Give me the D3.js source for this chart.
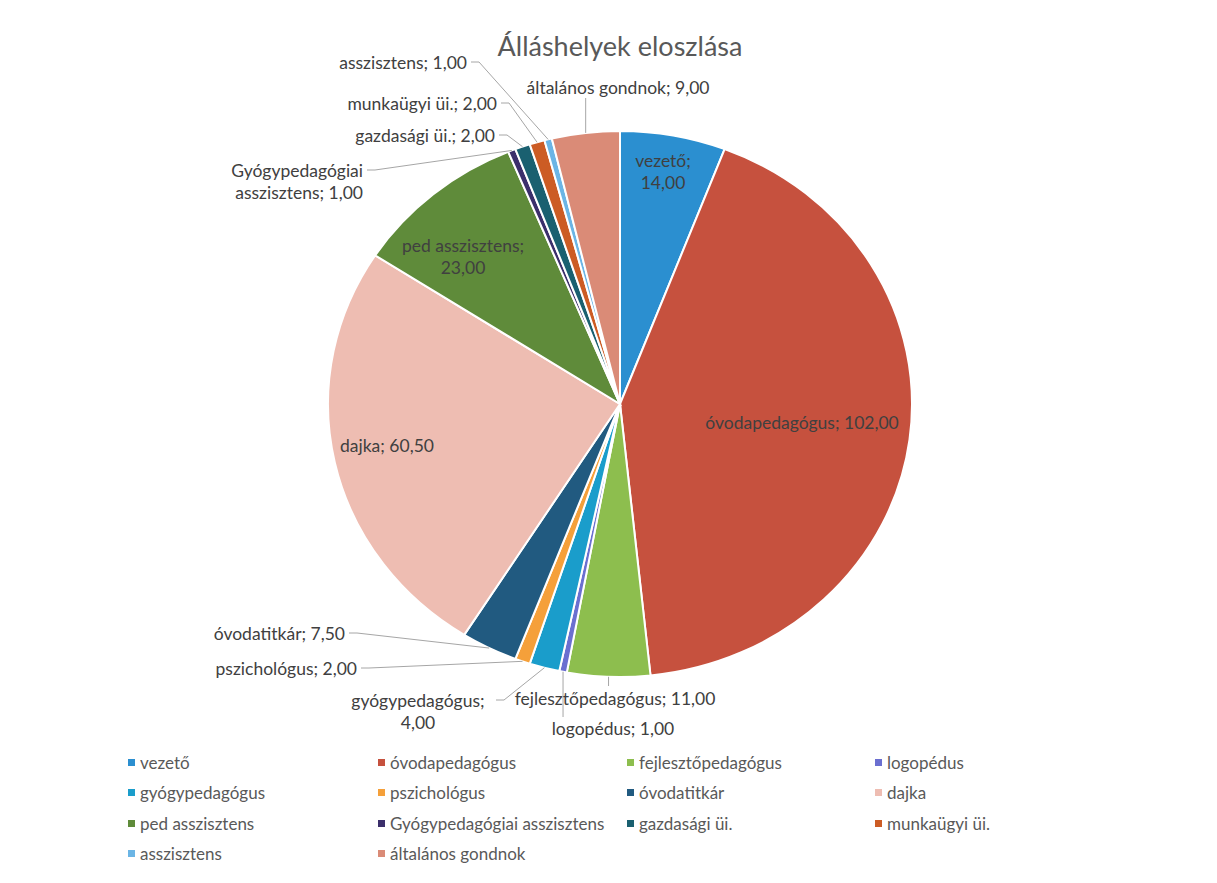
<!DOCTYPE html>
<html>
<head>
<meta charset="utf-8">
<script src="https://cdn.jsdelivr.net/npm/d3@7"></script>
<style>
  body { margin: 0; background: #fff; }
  text { font-family: Lato, "Open Sans", sans-serif; }
</style>
</head>
<body>
<div id="chart"></div>
<script>
// data
var categories = ["vezető", "óvodapedagógus", "fejlesztőpedagógus", "logopédus",
  "gyógypedagógus", "pszichológus", "óvodatitkár", "dajka", "ped asszisztens",
  "Gyógypedagógiai asszisztens", "gazdasági üi.", "munkaügyi üi.", "asszisztens",
  "általános gondnok"];
var values = [14, 102, 11, 1, 4, 2, 7.5, 60.5, 23, 1, 2, 2, 1, 9];
var colors = ["#2b8fd0", "#c6513e", "#8dbe4e", "#6b6fd0", "#1a9dcb", "#f5a03a",
  "#215a80", "#eebdb2", "#5f8b3a", "#3b2f6b", "#1a6070", "#cc5c24", "#6bb5e5", "#da8b77"];

// Excel style number: 14,00
var fmt = function(v) { return v.toFixed(2).replace(".", ","); };

var svg = d3.select("#chart").append("svg")
  .attr("width", 1217)
  .attr("height", 883);

var cx = 620, cy = 404, rx = 292, ry = 273;

// title
svg.append("text")
  .attr("x", 620).attr("y", 45)
  .attr("text-anchor", "middle")
  .attr("dominant-baseline", "central")
  .style("font-size", "27px")
  .style("fill", "#595959")
  .text("Álláshelyek eloszlása");

var pie = d3.pie().sort(null).value(function(d) { return d; });
var arcs = pie(values);
var arc = d3.arc().innerRadius(0).outerRadius(ry);

// pie is a bit wider than tall in the picture
var pieG = svg.append("g")
  .attr("transform", "translate(" + cx + "," + cy + ") scale(" + (rx / ry) + ",1)");

pieG.selectAll("path")
  .data(arcs)
  .enter()
  .append("path")
    .attr("d", arc)
    .style("fill", function(d, i) { return colors[i]; })
    .style("stroke", "#fff")
    .style("stroke-width", 2)
    .attr("vector-effect", "non-scaling-stroke");

// point on the outer edge at the middle of a slice
function edgePoint(d) {
  var a = (d.startAngle + d.endAngle) / 2;
  return [cx + rx * Math.sin(a), cy - ry * Math.cos(a)];
}

// label layout: x, y, anchor, line splitting, leader elbow
var labelLayout = [
  {x: 663, y: 160, anchor: "middle", split: true},                 // vezető
  {x: 802, y: 422, anchor: "middle"},                              // óvodapedagógus
  {x: 615, y: 698, anchor: "middle", leader: "v", end: 686},       // fejlesztő
  {x: 613, y: 728, anchor: "middle", leader: "v", end: 717},       // logopédus
  {x: 418, y: 700, anchor: "middle", split: true, leader: "h", lx: 496}, // gyógyped
  {x: 357, y: 668, anchor: "end", leader: "h", lx: 361},           // pszichológus
  {x: 345, y: 633, anchor: "end", leader: "h", lx: 349},           // óvodatitkár
  {x: 387, y: 445, anchor: "middle"},                              // dajka
  {x: 463, y: 245, anchor: "middle", split: true},                 // ped asszisztens
  {x: 363, y: 170, anchor: "end", split: true, wrapName: true, leader: "h", lx: 367}, // Gyógyped assz
  {x: 495, y: 135, anchor: "end", leader: "h", lx: 499},           // gazdasági
  {x: 497, y: 103, anchor: "end", leader: "h", lx: 501},           // munkaügyi
  {x: 467, y: 62, anchor: "end", leader: "h", lx: 471},            // asszisztens
  {x: 618, y: 87, anchor: "middle", leader: "v", end: 98}          // általános gondnok
];

// leader lines
var lineG = svg.append("g");
arcs.forEach(function(d, i) {
  var L = labelLayout[i];
  if (!L.leader) return;
  var p = edgePoint(d);
  var pts;
  if (L.leader === "v") {
    pts = [p, [p[0], L.end]];
  } else {
    pts = [[L.lx, L.y], [L.lx + 8, L.y], p];
  }
  lineG.append("path")
    .attr("d", d3.line()(pts))
    .style("fill", "none")
    .style("stroke", "#a6a6a6")
    .style("stroke-width", 1);
});

// labels
var labelG = svg.append("g");
arcs.forEach(function(d, i) {
  var L = labelLayout[i];
  var name = categories[i], val = fmt(values[i]);
  var lines;
  if (L.wrapName) {
    var parts = name.split(" ");
    lines = [parts[0], parts[1] + "; " + val];
  } else if (L.split) {
    lines = [name + ";", val];
  } else {
    lines = [name + "; " + val];
  }
  var t = labelG.append("text")
    .attr("text-anchor", L.anchor)
    .style("font-size", "17.5px")
    .style("fill", "#404040");
  lines.forEach(function(s, k) {
    t.append("tspan")
      .attr("x", L.x)
      .attr("y", L.y + k * 22)
      .attr("dominant-baseline", "central")
      .text(s);
  });
});

// legend
var legendCols = [131, 381, 630, 878];
var legendRows = [762, 792, 823, 853];
var legend = svg.append("g");
categories.forEach(function(c, i) {
  var x = legendCols[i % 4], y = legendRows[Math.floor(i / 4)];
  legend.append("rect")
    .attr("x", x - 3).attr("y", y - 3)
    .attr("width", 7).attr("height", 7)
    .style("fill", colors[i]);
  legend.append("text")
    .attr("x", x + 9).attr("y", y)
    .attr("dominant-baseline", "central")
    .style("font-size", "17px")
    .style("fill", "#595959")
    .text(c);
});
</script>
</body>
</html>
